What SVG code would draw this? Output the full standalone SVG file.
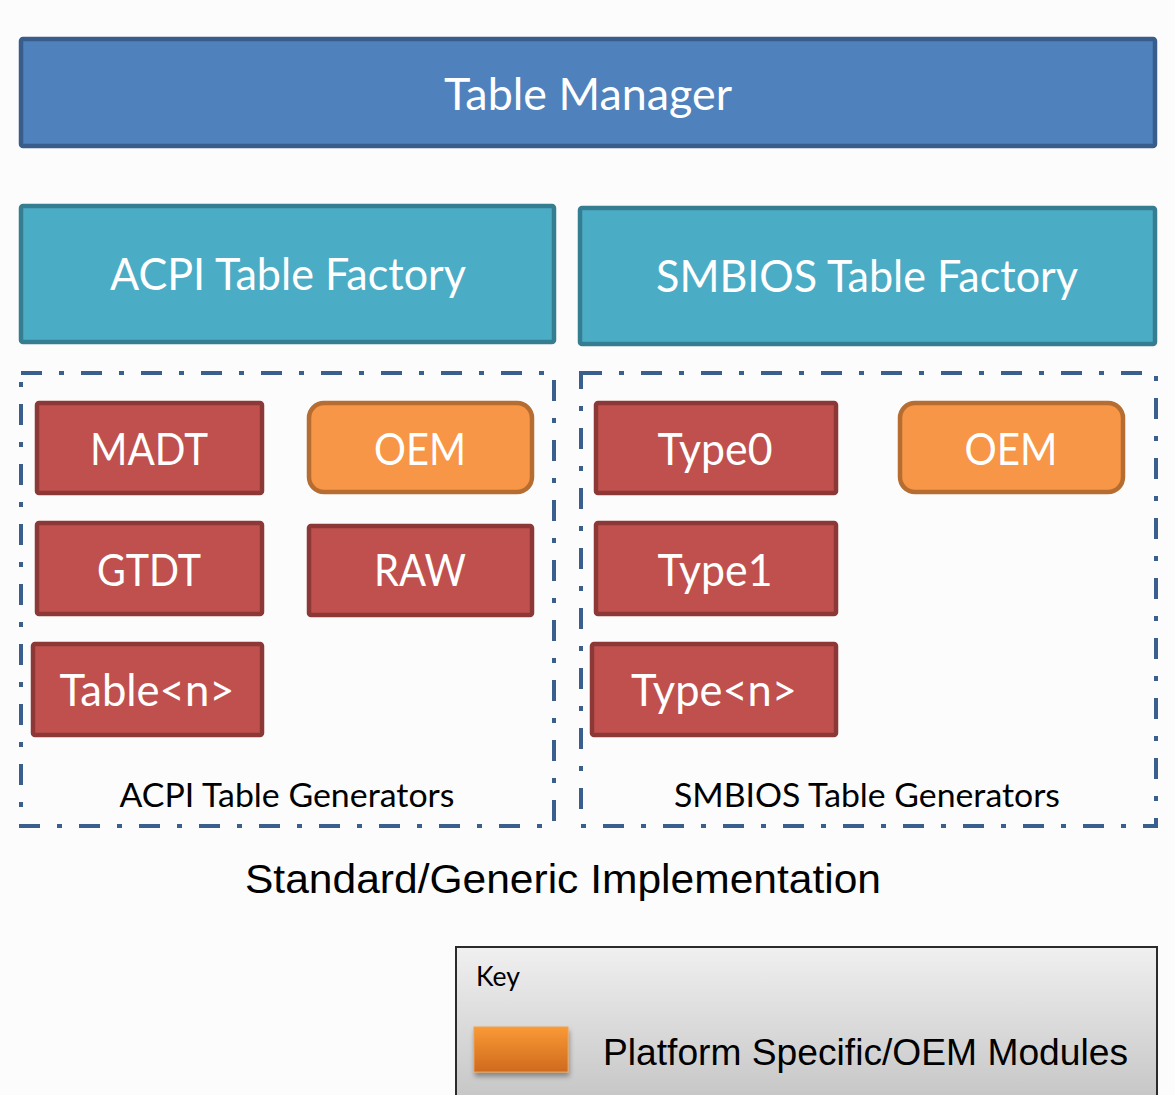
<svg xmlns="http://www.w3.org/2000/svg" width="1175" height="1095" viewBox="0 0 1175 1095">
<style>
.bg{fill:#FCFCFC}
.mgr{fill:#4F81BD;stroke:#385D8A;stroke-width:4.5}
.fac{fill:#4BACC6;stroke:#357D91;stroke-width:4.5}
.red{fill:#C0504D;stroke:#8C3836;stroke-width:4.5}
.org{fill:#F79646;stroke:#B66D31;stroke-width:4.5}
.grp{fill:none;stroke:#3A5F8F;stroke-width:4;stroke-dasharray:21 17 5 17}
.t{font-family:Lato,"Open Sans",sans-serif;fill:#FFFFFF;text-anchor:middle;font-size:44px}
.lbl{font-family:Lato,"Open Sans",sans-serif;fill:#000;text-anchor:middle;font-size:32px}
.ar{font-family:"Liberation Sans",Arial,sans-serif;fill:#000}
</style>
<defs>
<linearGradient id="keyg" x1="0" y1="0" x2="0" y2="1">
<stop offset="0" stop-color="#F0F0F0"/>
<stop offset="1" stop-color="#C4C4C4"/>
</linearGradient>
<linearGradient id="swg" x1="0" y1="0" x2="0" y2="1">
<stop offset="0" stop-color="#F99A35"/>
<stop offset="1" stop-color="#CF691E"/>
</linearGradient>
<filter id="sh" x="-20%" y="-20%" width="150%" height="160%">
<feDropShadow dx="1" dy="4" stdDeviation="2.5" flood-color="#000" flood-opacity="0.35"/>
</filter>
</defs>
<rect class="bg" x="0" y="0" width="1175" height="1095"/>

<g id="table-manager">
<rect class="mgr" x="21" y="39" width="1134" height="107" rx="2"/>
<text class="t" x="588" y="110" textLength="288" lengthAdjust="spacingAndGlyphs">Table Manager</text>
</g>

<g id="acpi-factory">
<rect class="fac" x="21" y="206" width="533" height="136" rx="2"/>
<text class="t" x="288" y="290" textLength="356" lengthAdjust="spacingAndGlyphs">ACPI Table Factory</text>
</g>

<g id="smbios-factory">
<rect class="fac" x="580" y="208" width="575" height="136" rx="2"/>
<text class="t" x="867" y="292" textLength="422" lengthAdjust="spacingAndGlyphs">SMBIOS Table Factory</text>
</g>

<g id="acpi-generators">
<rect class="grp" x="21" y="373" width="533" height="453"/>
<text class="lbl" x="287" y="807" textLength="335" lengthAdjust="spacingAndGlyphs">ACPI Table Generators</text>
</g>

<g id="smbios-generators">
<rect class="grp" x="581" y="373" width="575" height="453"/>
<text class="lbl" x="867" y="807" textLength="386" lengthAdjust="spacingAndGlyphs">SMBIOS Table Generators</text>
</g>

<g id="madt">
<rect class="red" x="37" y="403" width="225" height="90" rx="2"/>
<text class="t" x="149" y="465" textLength="118" lengthAdjust="spacingAndGlyphs">MADT</text>
</g>
<g id="acpi-oem">
<rect class="org" x="309" y="403" width="223" height="89" rx="15"/>
<text class="t" x="420" y="465" textLength="92" lengthAdjust="spacingAndGlyphs">OEM</text>
</g>
<g id="gtdt">
<rect class="red" x="37" y="523" width="225" height="91" rx="2"/>
<text class="t" x="149" y="586" textLength="104" lengthAdjust="spacingAndGlyphs">GTDT</text>
</g>
<g id="raw">
<rect class="red" x="309" y="526" width="223" height="89" rx="2"/>
<text class="t" x="420" y="586" textLength="92" lengthAdjust="spacingAndGlyphs">RAW</text>
</g>
<g id="table-n">
<rect class="red" x="33" y="644" width="229" height="91" rx="2"/>
<text class="t" x="147" y="706" textLength="175" lengthAdjust="spacingAndGlyphs">Table&lt;n&gt;</text>
</g>

<g id="type0">
<rect class="red" x="596" y="403" width="240" height="90" rx="2"/>
<text class="t" x="715" y="465" textLength="115" lengthAdjust="spacingAndGlyphs">Type0</text>
</g>
<g id="smbios-oem">
<rect class="org" x="900" y="403" width="223" height="89" rx="15"/>
<text class="t" x="1011" y="465" textLength="93" lengthAdjust="spacingAndGlyphs">OEM</text>
</g>
<g id="type1">
<rect class="red" x="596" y="523" width="240" height="91" rx="2"/>
<text class="t" x="715" y="586" textLength="115" lengthAdjust="spacingAndGlyphs">Type1</text>
</g>
<g id="type-n">
<rect class="red" x="592" y="644" width="244" height="91" rx="2"/>
<text class="t" x="714" y="706" textLength="166" lengthAdjust="spacingAndGlyphs">Type&lt;n&gt;</text>
</g>

<g id="caption">
<text class="ar" x="563" y="893" font-size="40" text-anchor="middle" textLength="636" lengthAdjust="spacingAndGlyphs">Standard/Generic Implementation</text>
</g>

<g id="key">
<rect x="456" y="947" width="701" height="160" fill="url(#keyg)" stroke="#2B2B2B" stroke-width="2"/>
<text x="476" y="986" font-family="Lato,'Open Sans',sans-serif" font-size="27" fill="#000" textLength="44" lengthAdjust="spacingAndGlyphs">Key</text>
<rect x="474" y="1027" width="94" height="45" fill="url(#swg)" stroke="#F0A050" stroke-width="1" filter="url(#sh)"/>
<text class="ar" x="603" y="1065" font-size="37" textLength="525" lengthAdjust="spacingAndGlyphs">Platform Specific/OEM Modules</text>
</g>
<g id="connectors"></g>
</svg>
